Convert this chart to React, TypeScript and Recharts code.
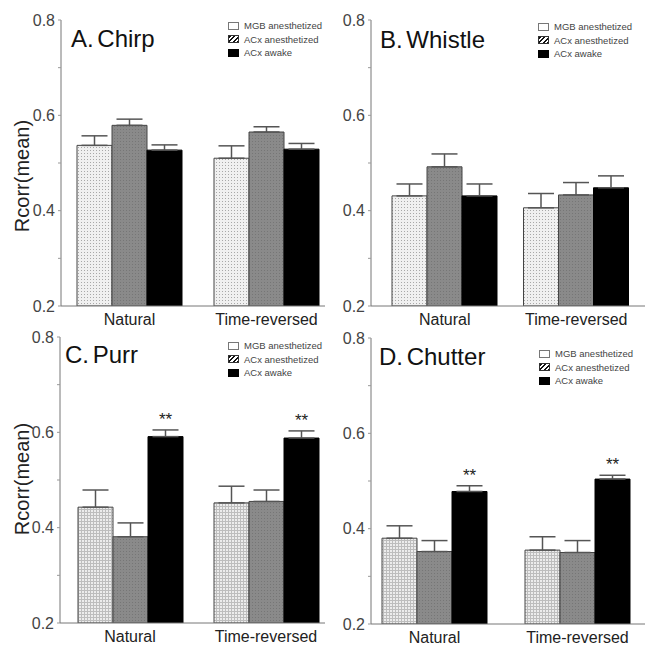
import React from 'react';
import { BarChart, Bar, XAxis, YAxis, ErrorBar, Legend, LabelList } from 'recharts';

// ---------- data ----------
const categories = ['Natural', 'Time-reversed'];
const seriesNames = ['MGB anesthetized', 'ACx anesthetized', 'ACx awake'];
const yTicks = [0.2, 0.3, 0.4, 0.5, 0.6, 0.7, 0.8];
const yLabelTicks = [0.2, 0.4, 0.6, 0.8];
const yLabel = 'Rcorr(mean)';

const chirpMGB = [0.537, 0.51];
const chirpMGBErr = [0.02, 0.026];
const chirpACxAn = [0.579, 0.565];
const chirpACxAnErr = [0.013, 0.011];
const chirpAwake = [0.527, 0.529];
const chirpAwakeErr = [0.011, 0.012];
const chirpSig = ['', ''];

const whistleMGB = [0.431, 0.406];
const whistleMGBErr = [0.025, 0.03];
const whistleACxAn = [0.492, 0.433];
const whistleACxAnErr = [0.027, 0.026];
const whistleAwake = [0.431, 0.448];
const whistleAwakeErr = [0.025, 0.025];
const whistleSig = ['', ''];

const purrMGB = [0.443, 0.452];
const purrMGBErr = [0.036, 0.035];
const purrACxAn = [0.381, 0.455];
const purrACxAnErr = [0.029, 0.024];
const purrAwake = [0.591, 0.588];
const purrAwakeErr = [0.014, 0.015];
const purrSig = ['**', '**'];

const chutterMGB = [0.38, 0.355];
const chutterMGBErr = [0.026, 0.028];
const chutterACxAn = [0.352, 0.35];
const chutterACxAnErr = [0.023, 0.025];
const chutterAwake = [0.478, 0.504];
const chutterAwakeErr = [0.012, 0.008];
const chutterSig = ['**', '**'];

const titles = ['A. Chirp', 'B. Whistle', 'C. Purr', 'D. Chutter'];

function buildRows(mgb: number[], mgbE: number[], acx: number[], acxE: number[], aw: number[], awE: number[], sig: string[]) {
  return categories.map((cat, i) => ({
    cat,
    mgb: mgb[i],
    mgbErr: [0, mgbE[i]],
    acx: acx[i],
    acxErr: [0, acxE[i]],
    awake: aw[i],
    awakeErr: [0, awE[i]],
    awakeErrVal: awE[i],
    sig: sig[i],
  }));
}

const panelData = [
  buildRows(chirpMGB, chirpMGBErr, chirpACxAn, chirpACxAnErr, chirpAwake, chirpAwakeErr, chirpSig),
  buildRows(whistleMGB, whistleMGBErr, whistleACxAn, whistleACxAnErr, whistleAwake, whistleAwakeErr, whistleSig),
  buildRows(purrMGB, purrMGBErr, purrACxAn, purrACxAnErr, purrAwake, purrAwakeErr, purrSig),
  buildRows(chutterMGB, chutterMGBErr, chutterACxAn, chutterACxAnErr, chutterAwake, chutterAwakeErr, chutterSig),
];

// ---------- layout / style ----------
const FONT = '"Liberation Sans", Arial, Helvetica, sans-serif';
const layouts = [
  { left: 0, top: 0, width: 325, height: 330, yw: 61, pad: { left: 0, right: -10 }, title: { x: 71, y: 47 }, ylab: { x: 22, y: 176 }, legend: { x: 228, y: 19 }, mgbFill: 'url(#dotLight)' },
  { left: 320, top: 0, width: 325, height: 330, yw: 51, pad: { left: 8, right: 3 }, title: { x: 60, y: 48 }, ylab: null, legend: { x: 218, y: 20 }, mgbFill: 'url(#dotLight)' },
  { left: 0, top: 317, width: 325, height: 330, yw: 60, pad: { left: 2, right: -9 }, title: { x: 65, y: 46 }, ylab: { x: 22, y: 162 }, legend: { x: 228, y: 22 }, mgbFill: 'url(#gridLight)' },
  { left: 320, top: 318, width: 325, height: 330, yw: 51, pad: { left: -8, right: -4 }, title: { x: 59, y: 47 }, ylab: null, legend: { x: 219, y: 29 }, mgbFill: 'url(#gridLight)' },
];

const legendBoxStyles: React.CSSProperties[] = [
  { background: '#fff', border: '1px solid #777' },
  { background: 'repeating-linear-gradient(135deg, #111 0px, #111 1.6px, #fff 1.6px, #fff 3.2px)', border: '1px solid #333' },
  { background: '#000', border: '1px solid #000' },
];

function LegendBox() {
  return (
    <div style={{ fontFamily: FONT, fontSize: 9.5, color: '#444', lineHeight: '13.5px' }}>
      {seriesNames.map((n, i) => (
        <div key={n} style={{ display: 'flex', alignItems: 'center', height: 13.5 }}>
          <span style={{ display: 'inline-block', width: 11, height: 8, boxSizing: 'border-box', marginRight: 5, ...legendBoxStyles[i] }} />
          <span style={{ whiteSpace: 'nowrap' }}>{n}</span>
        </div>
      ))}
    </div>
  );
}

const yFmt = (v: number) => (yLabelTicks.some((t) => Math.abs(t - v) < 1e-6) ? v.toFixed(1) : '');

function Panel({ idx }: { idx: number }) {
  const L = layouts[idx];
  const data = panelData[idx];
  const sigContent = (props: any) => {
    const { x, y, width, height, index, value } = props;
    if (!value) return null;
    const row = data[index];
    const pxPerUnit = height / (row.awake - 0.2);
    const errPx = row.awakeErrVal * pxPerUnit;
    const cy = y - errPx - 13;
    return (
      <text x={x + width / 2} y={cy + 8} textAnchor="middle" fontFamily={FONT} fontSize={17} fill="#222">
        {value}
      </text>
    );
  };
  return (
    <div style={{ position: 'absolute', left: L.left, top: L.top, width: L.width, height: L.height }}>
      <BarChart
        width={L.width}
        height={L.height}
        data={data}
        margin={{ top: 20, right: 0, bottom: 0, left: 0 }}
        barGap={0}
        style={{ overflow: 'visible' }}
      >
        <XAxis
          dataKey="cat"
          height={24}
          tickLine={false}
          padding={L.pad}
          axisLine={{ stroke: '#777', strokeWidth: 1 }}
          tick={{ fontSize: 16, fill: '#222', fontFamily: FONT }}
          interval={0}
        />
        <YAxis
          type="number"
          domain={[0.2, 0.8]}
          ticks={yTicks}
          width={L.yw}
          tickSize={3}
          tickMargin={3}
          tickFormatter={yFmt}
          axisLine={{ stroke: '#777', strokeWidth: 1 }}
          tickLine={{ stroke: '#999' }}
          tick={{ fontSize: 16, fill: '#444', fontFamily: FONT }}
          allowDataOverflow
        />
        <Legend
          layout="vertical"
          verticalAlign="middle"
          align="center"
          wrapperStyle={{ position: 'absolute', left: L.legend.x, top: L.legend.y, width: 110, height: 42 }}
          content={() => <LegendBox />}
        />
        <Bar dataKey="mgb" name={seriesNames[0]} fill={L.mgbFill} stroke="#444" strokeWidth={1} barSize={35} isAnimationActive={false}>
          <ErrorBar dataKey="mgbErr" width={13} stroke="#555" strokeWidth={1.5} direction="y" />
        </Bar>
        <Bar dataKey="acx" name={seriesNames[1]} fill="url(#dotGray)" stroke="#444" strokeWidth={1} barSize={35} isAnimationActive={false}>
          <ErrorBar dataKey="acxErr" width={13} stroke="#555" strokeWidth={1.5} direction="y" />
        </Bar>
        <Bar dataKey="awake" name={seriesNames[2]} fill="#000" stroke="#000" strokeWidth={1} barSize={35} isAnimationActive={false}>
          <ErrorBar dataKey="awakeErr" width={13} stroke="#555" strokeWidth={1.5} direction="y" />
          <LabelList dataKey="sig" content={sigContent} />
        </Bar>
        <text x={L.title.x} y={L.title.y} fontFamily={FONT} fontSize={24} fill="#111" wordSpacing={-3}>
          {titles[idx]}
        </text>
        {L.ylab ? (
          <text
            x={L.ylab.x}
            y={L.ylab.y}
            transform={`rotate(-90 ${L.ylab.x} ${L.ylab.y})`}
            textAnchor="middle"
            dominantBaseline="central"
            fontFamily={FONT}
            fontSize={20}
            fill="#222"
          >
            {yLabel}
          </text>
        ) : null}
      </BarChart>
    </div>
  );
}

export default function App() {
  return (
    <div style={{ position: 'absolute', left: 0, top: 0, width: 647, height: 649, background: '#fff' }}>
      <svg width={0} height={0} style={{ position: 'absolute' }}>
        <defs>
          <pattern id="dotLight" width={3} height={3} patternUnits="userSpaceOnUse">
            <rect width={3} height={3} fill="#f0f0f0" />
            <rect width={1} height={1} fill="#a8a8a8" />
          </pattern>
          <pattern id="gridLight" width={3} height={3} patternUnits="userSpaceOnUse">
            <rect width={3} height={3} fill="#ececec" />
            <rect width={3} height={1} fill="#bdbdbd" />
            <rect width={1} height={3} fill="#bdbdbd" />
          </pattern>
          <pattern id="dotGray" width={3} height={3} patternUnits="userSpaceOnUse">
            <rect width={3} height={3} fill="#8a8a8a" />
            <rect width={1} height={1} fill="#767676" />
          </pattern>
        </defs>
      </svg>
      {[0, 1, 2, 3].map((i) => (
        <Panel key={i} idx={i} />
      ))}
    </div>
  );
}
